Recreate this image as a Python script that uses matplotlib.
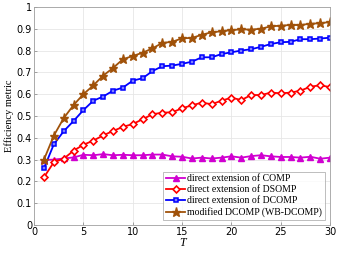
import matplotlib
matplotlib.use("Agg")
import matplotlib.pyplot as plt

T = list(range(1, 31))

comp = [0.298, 0.300, 0.305, 0.310, 0.322, 0.320, 0.325, 0.320, 0.322, 0.320,
        0.320, 0.323, 0.323, 0.315, 0.313, 0.305, 0.309, 0.305, 0.309, 0.315,
        0.309, 0.316, 0.320, 0.315, 0.312, 0.312, 0.309, 0.313, 0.304, 0.309]
dsomp = [0.219, 0.288, 0.304, 0.341, 0.368, 0.387, 0.411, 0.431, 0.450, 0.463,
         0.485, 0.508, 0.515, 0.517, 0.535, 0.549, 0.561, 0.554, 0.570, 0.584,
         0.573, 0.596, 0.596, 0.607, 0.604, 0.607, 0.616, 0.634, 0.641, 0.632]
dcomp = [0.260, 0.370, 0.430, 0.477, 0.527, 0.570, 0.589, 0.616, 0.630, 0.662,
         0.673, 0.706, 0.728, 0.731, 0.739, 0.749, 0.769, 0.769, 0.784, 0.792,
         0.800, 0.806, 0.817, 0.830, 0.838, 0.840, 0.852, 0.852, 0.855, 0.859]
wbdcomp = [0.300, 0.410, 0.490, 0.550, 0.600, 0.640, 0.685, 0.720, 0.760, 0.775,
           0.790, 0.810, 0.835, 0.840, 0.856, 0.858, 0.872, 0.884, 0.888, 0.894,
           0.897, 0.896, 0.900, 0.911, 0.914, 0.917, 0.917, 0.923, 0.925, 0.931]

labels = ["direct extension of COMP", "direct extension of DSOMP",
          "direct extension of DCOMP", "modified DCOMP (WB-DCOMP)"]

fig = plt.figure(figsize=(3.41, 2.56), dpi=100)
ax = fig.add_axes([0.1, 0.121, 0.868, 0.852])

ax.plot(T, comp, color="#d000d0", marker="^", markersize=4.5, linewidth=1.3, label=labels[0])
ax.plot(T, dsomp, color="#ff0000", marker="D", markersize=3.5, markerfacecolor="white",
        markeredgewidth=1.2, linewidth=1.3, label=labels[1])
ax.plot(T, dcomp, color="#0000ff", marker="s", markersize=3.5, markerfacecolor="#8080ff",
        markeredgewidth=1.1, linewidth=1.3, label=labels[2])
ax.plot(T, wbdcomp, color="#a0520a", marker="*", markersize=6.5, linewidth=1.3, label=labels[3])

ax.set_xlim(0, 30)
ax.set_ylim(0, 1)
ax.set_xticks([0, 5, 10, 15, 20, 25, 30])
ax.set_yticks([0, 0.1, 0.2, 0.3, 0.4, 0.5, 0.6, 0.7, 0.8, 0.9, 1])
ax.set_yticklabels(["0", "0.1", "0.2", "0.3", "0.4", "0.5", "0.6", "0.7", "0.8", "0.9", "1"])
ax.tick_params(labelsize=7, length=2, width=0.5, color="#808080", pad=1.5, direction="in")
ax.grid(True, color="#e6e6e6", linewidth=0.6)
ax.set_axisbelow(True)
for s in ax.spines.values():
    s.set_color("#a0a0a0")
    s.set_linewidth(0.6)

ax.set_xlabel("T", fontsize=8.5, family="Liberation Serif", style="italic", labelpad=0)
ax.set_ylabel("Efficiency metric", fontsize=7.5, family="Liberation Serif", labelpad=2)

leg = ax.legend(loc="lower right", prop={"family": "Liberation Serif", "size": 7},
                handlelength=2.0, handletextpad=0.2, borderpad=0.3, labelspacing=0.2,
                fancybox=False, edgecolor="#a0a0a0", borderaxespad=0.5)
leg.get_frame().set_linewidth(0.6)

plt.savefig("out.png", dpi=100)
plt.close()
